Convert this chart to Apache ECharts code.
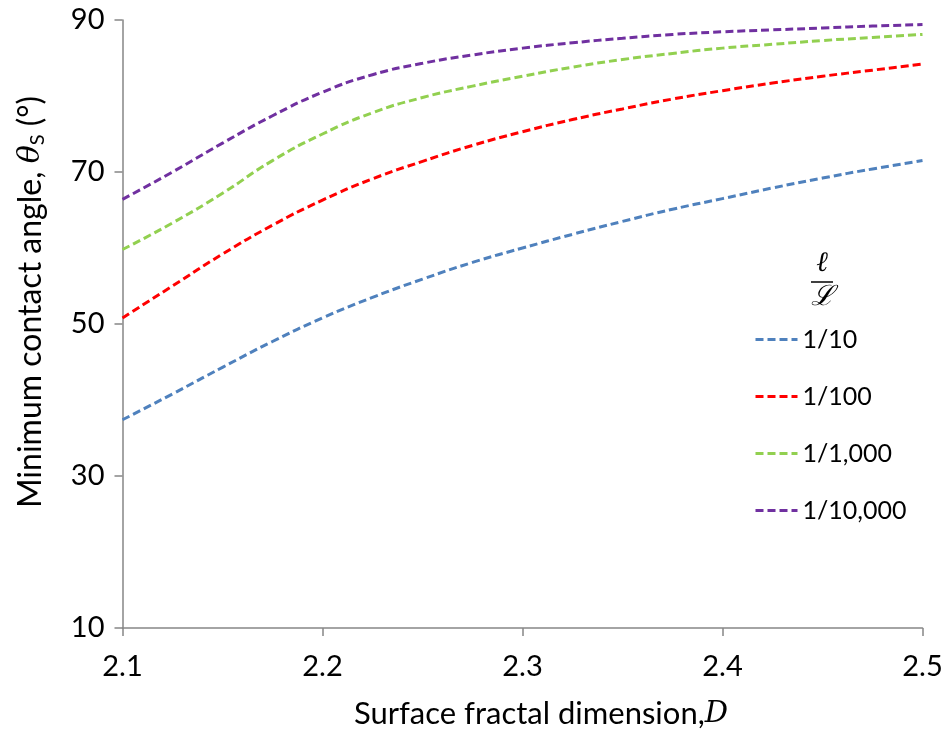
<!DOCTYPE html>
<html>
<head>
<meta charset="utf-8">
<script src="https://cdn.jsdelivr.net/npm/echarts@6/dist/echarts.min.js"></script>
<style>
  html, body { margin: 0; padding: 0; background: #fff; }
  #chart { width: 948px; height: 742px; }
</style>
</head>
<body>
<div id="chart"></div>
<script>
// Surface fractal dimension D
const dimension = [2.1, 2.125, 2.15, 2.175, 2.2, 2.225, 2.25, 2.275, 2.3,
                   2.325, 2.35, 2.375, 2.4, 2.425, 2.45, 2.475, 2.5];

// Minimum contact angle (degrees) for each length-scale ratio
const ratio10 =    [37.4, 40.8, 44.3, 47.7, 50.8, 53.5, 55.9, 58.1, 60.0,
                    61.8, 63.5, 65.1, 66.5, 67.9, 69.2, 70.4, 71.5];
const ratio100 =   [50.8, 55.0, 59.2, 63.0, 66.3, 69.1, 71.4, 73.5, 75.3,
                    76.9, 78.3, 79.6, 80.7, 81.7, 82.6, 83.4, 84.2];
const ratio1000 =  [59.8, 63.3, 67.2, 71.5, 75.0, 77.8, 79.8, 81.3, 82.6,
                    83.8, 84.8, 85.6, 86.3, 86.8, 87.3, 87.7, 88.1];
const ratio10000 = [66.4, 70.0, 73.8, 77.4, 80.5, 82.8, 84.3, 85.4, 86.3,
                    87.0, 87.6, 88.1, 88.45, 88.7, 88.95, 89.2, 89.4];

const seriesNames = ['1/10', '1/100', '1/1,000', '1/10,000'];
const seriesValues = [ratio10, ratio100, ratio1000, ratio10000];
const seriesColors = ['#4f81bd', '#ff0000', '#92d050', '#7030a0'];

const xTicks = [2.1, 2.2, 2.3, 2.4, 2.5];
const yTicks = [10, 30, 50, 70, 90];

const FONT = 'Lato';
const AXIS_GREY = '#868686';

const chart = echarts.init(document.getElementById('chart'), null, { renderer: 'canvas' });

const series = seriesNames.map((name, i) => ({
  name: name,
  type: 'line',
  smooth: true,
  symbol: 'none',
  data: dimension.map((d, k) => [d, seriesValues[i][k]]),
  lineStyle: { color: seriesColors[i], width: 3, type: [8, 4] },
  itemStyle: { color: seriesColors[i] }
}));

chart.setOption({
  animation: false,
  backgroundColor: '#ffffff',
  grid: { left: 122.5, right: 25.5, top: 20, bottom: 114, containLabel: false },
  xAxis: {
    type: 'value',
    min: xTicks[0],
    max: xTicks[xTicks.length - 1],
    interval: 0.1,
    axisLine: { lineStyle: { color: AXIS_GREY, width: 1.5 } },
    axisTick: { show: true, length: 8, lineStyle: { color: AXIS_GREY, width: 1.5 } },
    axisLabel: {
      margin: 24, fontFamily: FONT, fontSize: 29, color: '#000',
      formatter: v => v.toFixed(1)
    },
    splitLine: { show: false }
  },
  yAxis: {
    type: 'value',
    min: yTicks[0],
    max: yTicks[yTicks.length - 1],
    interval: 20,
    axisLine: { show: true, lineStyle: { color: AXIS_GREY, width: 1.5 } },
    axisTick: { show: true, length: 8, lineStyle: { color: AXIS_GREY, width: 1.5 } },
    axisLabel: { margin: 18, fontFamily: FONT, fontSize: 29, color: '#000' },
    splitLine: { show: false }
  },
  legend: {
    orient: 'vertical',
    left: 754,
    top: 327,
    padding: 0,
    itemWidth: 42,
    itemHeight: 14,
    itemGap: 32,
    itemStyle: { opacity: 0 },
    lineStyle: { width: 3 },
    textStyle: { fontFamily: FONT, fontSize: 25, color: '#000' },
    data: seriesNames
  },
  graphic: [
    {
      type: 'text',
      x: 31, y: 302,
      rotation: Math.PI / 2,
      style: {
        text: 'Minimum contact angle, {th|θ}{sub|S} (°)',
        align: 'center', verticalAlign: 'middle',
        fontFamily: FONT, fontSize: 32, fill: '#000',
        rich: {
          th: { fontFamily: 'DejaVu Serif', fontStyle: 'italic', fontSize: 30, fill: '#000' },
          sub: { fontFamily: FONT, fontSize: 20, fill: '#000', padding: [14, 0, 0, 0] }
        }
      }
    },
    {
      type: 'text',
      x: 541, y: 714,
      style: {
        text: 'Surface fractal dimension,{d|D}',
        align: 'center', verticalAlign: 'middle',
        fontFamily: FONT, fontSize: 31, fill: '#000',
        rich: { d: { fontFamily: 'DejaVu Serif', fontStyle: 'italic', fontSize: 29, fill: '#000' } }
      }
    },
    {
      type: 'text', x: 822, y: 264,
      style: { text: 'ℓ', align: 'center', verticalAlign: 'middle',
               fontFamily: 'DejaVu Serif', fontStyle: 'italic', fontSize: 28, fill: '#000' }
    },
    {
      type: 'line',
      shape: { x1: 811, y1: 282, x2: 833, y2: 282 },
      style: { stroke: '#000', lineWidth: 1.5 }
    },
    {
      type: 'text', x: 822, y: 298,
      style: { text: 'ℒ', align: 'center', verticalAlign: 'middle',
               fontFamily: 'DejaVu Serif', fontStyle: 'italic', fontSize: 28, fill: '#000' }
    }
  ],
  series: series
});
</script>
</body>
</html>
